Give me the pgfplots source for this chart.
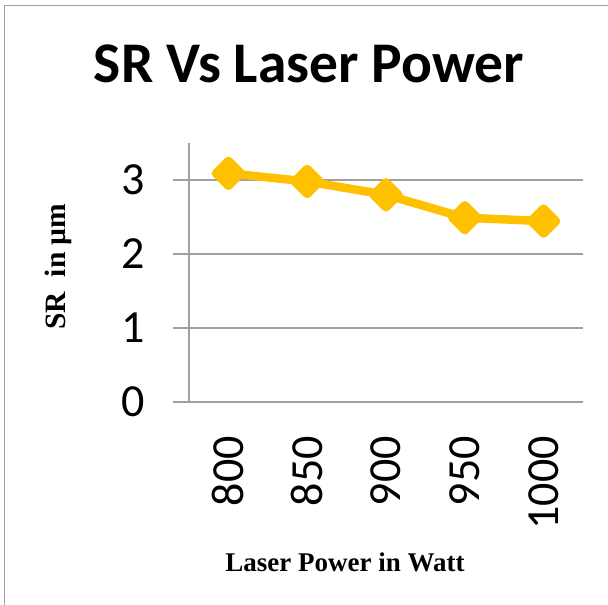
\documentclass[border=0pt]{standalone}
\usepackage{pgfplots}
\pgfplotsset{compat=1.18}
\usepackage{fontspec}
\setmainfont{Carlito}
\newfontfamily\tnr{Liberation Serif}
\definecolor{lineorange}{RGB}{255,192,0}
\definecolor{gridgray}{RGB}{160,160,160}
\begin{document}
\begin{tikzpicture}[x=1pt,y=1pt]
\path[use as bounding box] (0,0) rectangle (608,605);
\draw[gridgray, line width=1.5pt] (4.5,0) -- (4.5,599.5) -- (608,599.5);
\begin{axis}[
  at={(189pt,203pt)}, anchor=south west,
  scale only axis, width=394pt, height=259pt,
  xmin=-0.5, xmax=4.5, ymin=0, ymax=3.5,
  axis lines=left, axis line style={-, gridgray, line width=1.3pt},
  xtick={0,1,2,3,4}, xticklabels={800,850,900,950,1000},
  ytick={0,1,2,3},
  ymajorgrids, grid style={gridgray, line width=1.3pt},
  tick align=outside, major tick length=16pt,
  ytick style={gridgray, line width=1.3pt},
  xtick style={draw=none},
  tick label style={font=\fontsize{46}{50}\selectfont},
  /pgf/number format/assume math mode=true,
  xticklabel style={rotate=90, anchor=east, inner sep=0pt},
  yticklabel style={anchor=east, inner sep=0pt},
  xticklabel shift=18pt, yticklabel shift=28pt,
  clip=false,
]
\addplot[only marks, mark=square*, mark size=9pt,
  mark options={rotate=45, fill=black, draw=none, opacity=0.18},
  shift={(1.5pt,-3pt)}]
  coordinates {(0,3.09) (1,2.98) (2,2.80) (3,2.49) (4,2.445)};
\addplot[lineorange, line width=8.5pt, line join=round,
  mark=square*, mark size=8.8pt,
  mark options={rotate=45, fill=lineorange, draw=none}]
  coordinates {(0,3.09) (1,2.98) (2,2.80) (3,2.49) (4,2.445)};
\end{axis}
\node[anchor=base, font=\bfseries\fontsize{57.5}{62}\selectfont] at (309,522) {SR Vs Laser Power};
\node[rotate=90, anchor=base, font=\tnr\bfseries\fontsize{29.5}{32}\selectfont] at (65,338.5) {SR\ \ in µm};
\node[anchor=base, font=\tnr\bfseries\fontsize{27}{30}\selectfont] at (345,33) {Laser Power in Watt};
\end{tikzpicture}
\end{document}
